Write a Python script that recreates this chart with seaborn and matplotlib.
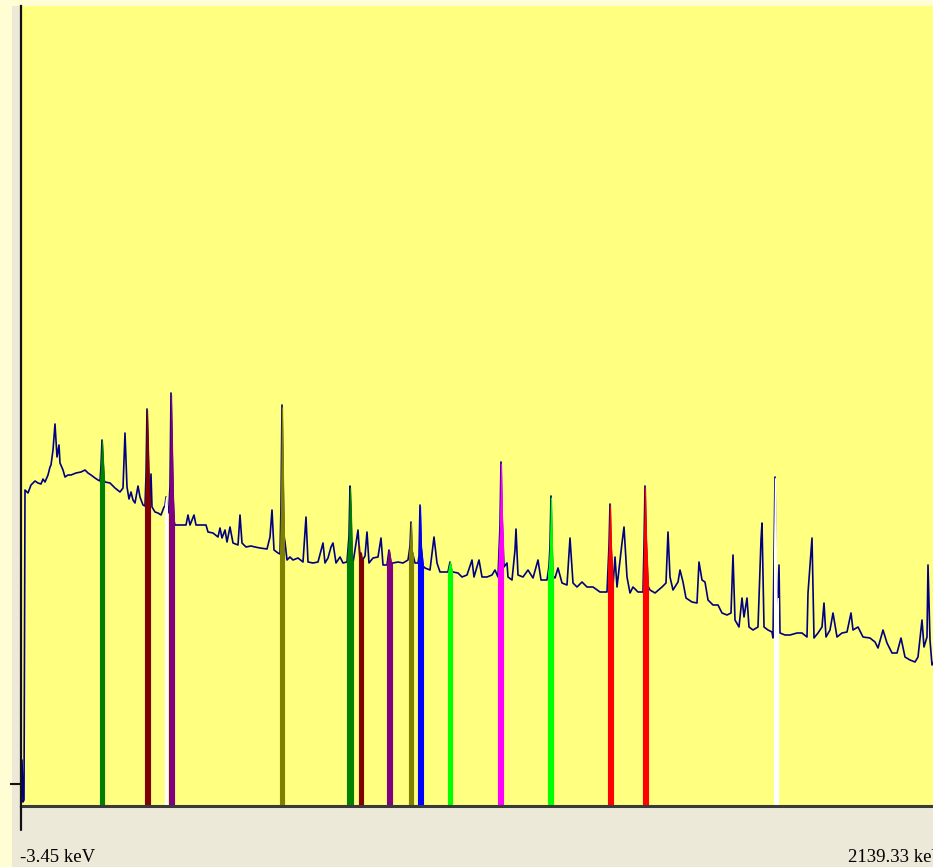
import numpy as np
import pandas as pd
import matplotlib
matplotlib.use("Agg")
import matplotlib.pyplot as plt
from matplotlib.lines import Line2D
from matplotlib.patches import Rectangle
import seaborn as sns

# Energy calibration of the display: E = OFFSET + GAIN * channel
OFFSET_KEV = -3.45
END_KEV = 2139.33
N_CHANNELS = 924
GAIN_KEV = (END_KEV - OFFSET_KEV) / N_CHANNELS

# Gamma spectrum (channel, counts)
channels = [
    0, 1, 2, 3, 4, 7, 10, 14, 17, 20, 22, 24, 27, 29, 30, 32, 34, 36, 38, 39,
    42, 44, 47, 50, 55, 60, 64, 67, 70, 74, 77, 79, 80, 81, 82, 83, 84, 89, 94, 99,
    102, 104, 106, 108, 110, 112, 114, 117, 119, 122, 124, 125, 126, 127, 128, 129, 130, 131, 134, 137,
    140, 143, 144, 145, 146, 147, 148, 149, 150, 151, 152, 153, 154, 165, 167, 169, 173, 175, 185, 187,
    192, 197, 199, 201, 204, 206, 209, 212, 217, 219, 221, 225, 230, 234, 239, 246, 249, 251, 253, 257,
    259, 260, 261, 262, 263, 264, 266, 269, 272, 277, 282, 285, 287, 292, 297, 302, 304, 307, 310, 312,
    315, 319, 322, 326, 328, 329, 330, 331, 332, 337, 339, 340, 341, 344, 346, 348, 352, 357, 360, 362,
    366, 368, 370, 372, 377, 382, 387, 389, 390, 391, 394, 397, 398, 399, 400, 402, 404, 409, 413, 416,
    419, 424, 427, 429, 431, 432, 437, 441, 446, 451, 453, 458, 461, 466, 471, 474, 477, 479, 480, 481,
    483, 486, 487, 491, 494, 495, 497, 502, 507, 512, 517, 520, 526, 528, 529, 530, 531, 532, 534, 537,
    541, 546, 549, 552, 556, 561, 566, 572, 579, 586, 588, 589, 590, 592, 594, 596, 601, 603, 606, 609,
    612, 617, 622, 623, 624, 625, 627, 629, 634, 641, 645, 647, 649, 652, 657, 659, 662, 665, 671, 676,
    678, 681, 684, 687, 692, 697, 701, 706, 710, 712, 714, 718, 721, 723, 726, 728, 732, 737, 740, 741,
    743, 747, 751, 752, 754, 755, 756, 758, 759, 764, 769, 776, 781, 786, 787, 791, 793, 797, 801, 803,
    805, 809, 812, 816, 821, 826, 830, 832, 837, 842, 849, 854, 857, 862, 866, 871, 876, 880, 884, 889,
    894, 897, 901, 903, 906, 907, 909, 911, 916, 922,
]
counts = [
    2, 46, 4, 6, 316, 313, 321, 325, 323, 322, 327, 324, 331, 339, 341, 356, 382, 349, 361, 343,
    336, 329, 331, 331, 333, 334, 336, 333, 331, 328, 326, 325, 340, 366, 345, 326, 324, 323, 318, 314,
    318, 373, 319, 307, 314, 306, 303, 320, 309, 301, 300, 330, 397, 360, 320, 305, 332, 299, 294, 293,
    291, 299, 300, 309, 298, 293, 300, 320, 413, 360, 310, 285, 281, 281, 291, 281, 291, 281, 281, 274,
    273, 269, 278, 268, 276, 264, 279, 263, 261, 291, 263, 259, 260, 259, 258, 257, 269, 296, 256, 253,
    252, 300, 401, 330, 270, 264, 246, 249, 246, 248, 244, 289, 244, 243, 244, 263, 243, 248, 259, 263,
    243, 249, 243, 244, 270, 320, 290, 250, 243, 276, 245, 253, 245, 250, 274, 243, 248, 249, 268, 241,
    241, 256, 243, 243, 244, 243, 246, 260, 284, 255, 243, 243, 250, 301, 260, 240, 238, 236, 269, 243,
    234, 234, 234, 244, 234, 234, 233, 229, 231, 246, 229, 246, 229, 229, 231, 236, 229, 280, 344, 290,
    239, 243, 229, 226, 256, 277, 231, 229, 236, 228, 246, 226, 226, 240, 260, 310, 260, 230, 228, 238,
    223, 221, 268, 223, 219, 224, 219, 219, 214, 214, 260, 302, 260, 220, 249, 219, 263, 279, 229, 213,
    219, 214, 214, 260, 320, 270, 220, 216, 213, 219, 223, 274, 229, 216, 224, 236, 224, 208, 204, 203,
    244, 226, 224, 206, 201, 201, 193, 191, 193, 251, 186, 179, 208, 189, 208, 179, 176, 179, 266, 283,
    179, 176, 174, 168, 329, 250, 175, 241, 173, 171, 171, 173, 173, 169, 213, 268, 168, 173, 179, 203,
    169, 176, 193, 169, 173, 174, 193, 176, 179, 169, 168, 164, 158, 176, 163, 153, 153, 168, 149, 146,
    144, 149, 186, 159, 169, 241, 166, 141, 150, 148,
]

# Regions of interest (first channel, last channel, colour)
roi_start = [79, 124, 144, 148, 259, 326, 338, 366, 388, 397, 427, 477, 527, 587, 622, 753]
roi_end = [83, 129, 146, 153, 263, 332, 342, 371, 392, 402, 431, 482, 532, 592, 627, 757]
roi_colors = ["#008000", "#800000", "#FFFFFF", "#800080", "#808000", "#008000",
              "#800000", "#800080", "#808000", "#0000FF", "#00FF00", "#FF00FF",
              "#00FF00", "#FF0000", "#FF0000", "#FFFFFF"]

spectrum = pd.DataFrame({"channel": channels, "counts": counts})

sns.set_theme(style="white")
plt.rcParams["font.family"] = ["Liberation Serif", "DejaVu Serif"]

W, H = 933, 867
fig = plt.figure(figsize=(W / 100, H / 100), dpi=100)
fig.patch.set_facecolor("#FFFDD3")

# beige frame behind the plot area
fig.add_artist(Rectangle((12 / W, 0), 1 - 12 / W, (H - 6) / H,
                         transform=fig.transFigure, facecolor="#ECE9D8",
                         edgecolor="none", zorder=0))

ax_left, ax_right = 21, 21 + N_CHANNELS
ax_top, ax_bottom = 6, 806
ax = fig.add_axes([ax_left / W, (H - ax_bottom) / H,
                   (ax_right - ax_left) / W, (ax_bottom - ax_top) / H])
ax.set_facecolor("#FFFF80")

sns.lineplot(data=spectrum, x="channel", y="counts", ax=ax, color="#000080",
             linewidth=1.2, sort=False, estimator=None, zorder=2)

# colour the area under the spectrum inside each region of interest
for c0, c1, col in zip(roi_start, roi_end, roi_colors):
    xs = np.linspace(c0, c1, 60)
    ys = np.interp(xs, channels, counts)
    ax.fill_between(xs, 0, ys, facecolor=col, edgecolor=col, linewidth=0.8, zorder=3)

ax.set_xlim(0, N_CHANNELS)
ax.set_ylim(0, 800)
ax.set_xticks([])
ax.set_yticks([22])
ax.set_yticklabels([])
ax.tick_params(axis="y", length=8, width=1.5, color="#111111", direction="out", left=True)
ax.set_xlabel("")
ax.set_ylabel("")
for side in ("top", "right"):
    ax.spines[side].set_visible(False)
ax.spines["left"].set_color("#111111")
ax.spines["left"].set_linewidth(1.6)
ax.spines["bottom"].set_color("#3A3A3A")
ax.spines["bottom"].set_linewidth(2.2)
ax.spines["bottom"].set_zorder(5)

# left axis line continues below the plot
fig.add_artist(Line2D([20.5 / W, 20.5 / W], [(H - 830) / H, (H - 806) / H],
                      transform=fig.transFigure, color="#111111", linewidth=1.6))

fig.text(20 / W, (H - 866) / H, f"{OFFSET_KEV:.2f} keV", ha="left", va="bottom",
         fontsize=13.5, color="#000000")
fig.text(ax_right / W, (H - 866) / H, f"{END_KEV:.2f} keV", ha="right", va="bottom",
         fontsize=13.5, color="#000000")

fig.savefig("out.png", dpi=100, facecolor=fig.get_facecolor())
